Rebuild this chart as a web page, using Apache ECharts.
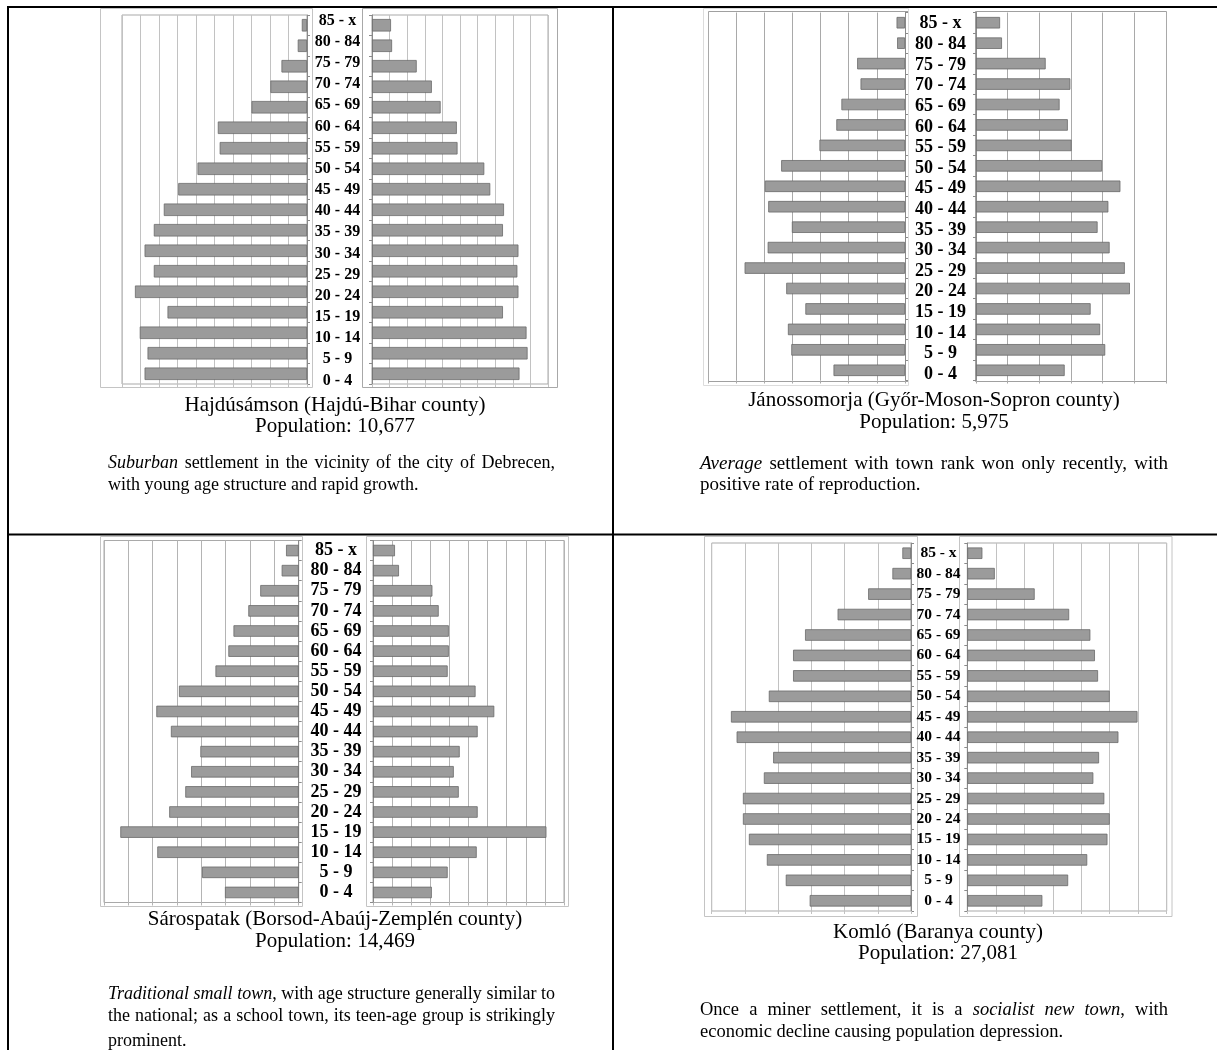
<!DOCTYPE html>
<html><head><meta charset="utf-8">
<script src="https://cdn.jsdelivr.net/npm/echarts@6/dist/echarts.min.js"></script>
<style>html,body{margin:0;padding:0;background:#fff}#c{width:1217px;height:1050px}</style>
</head><body><div id="c"></div>
<script>
// ---------- DATA (age groups bottom -> top) ----------
const AGE_GROUPS = ['0 - 4','5 - 9','10 - 14','15 - 19','20 - 24','25 - 29','30 - 34','35 - 39','40 - 44','45 - 49','50 - 54','55 - 59','60 - 64','65 - 69','70 - 74','75 - 79','80 - 84','85 - x'];

const hajdusamsonLeft  = [439, 431, 452, 377, 465, 414, 439, 414, 387, 348, 296, 236, 241, 150, 99, 69, 25, 14];
const hajdusamsonRight = [419, 442, 439, 372, 416, 413, 416, 372, 375, 336, 319, 243, 241, 195, 170, 127, 57, 54];

const janossomorjaLeft  = [127, 202, 208, 177, 211, 285, 244, 201, 243, 249, 220, 152, 122, 113, 79, 85, 14, 15];
const janossomorjaRight = [140, 204, 196, 181, 243, 235, 211, 192, 209, 228, 199, 151, 145, 132, 149, 110, 41, 38];

const sarospatakLeft  = [303, 397, 581, 733, 532, 466, 442, 404, 525, 585, 492, 342, 289, 268, 207, 158, 70, 52];
const sarospatakRight = [308, 391, 543, 908, 548, 449, 423, 454, 548, 635, 537, 391, 397, 397, 344, 311, 136, 115];

const komloLeft  = [610, 754, 868, 976, 1012, 1012, 886, 830, 1050, 1084, 856, 710, 710, 638, 442, 258, 112, 52];
const komloRight = [527, 708, 842, 984, 1000, 962, 885, 925, 1061, 1195, 1000, 918, 896, 864, 715, 473, 193, 106];

// axis scales (persons): max & gridline step for each half-pyramid
const axisMaxLeft  = [500, 350, 800, 1200];
const axisMaxRight = [500, 300, 1000, 1400];
const axisStep     = [50, 50, 100, 200];

const captions = [
  ['Hajdúsámson (Hajdú-Bihar county)', 'Population: 10,677'],
  ['Jánossomorja (Győr-Moson-Sopron county)', 'Population: 5,975'],
  ['Sárospatak (Borsod-Abaúj-Zemplén county)', 'Population: 14,469'],
  ['Komló (Baranya county)', 'Population: 27,081']
];
const descriptions = [
  ['*Suburban* settlement in the vicinity of the city of Debrecen,', 'with young age structure and rapid growth.'],
  ['*Average* settlement with town rank won only recently, with', 'positive rate of reproduction.'],
  ['*Traditional small town*, with age structure generally similar to', 'the national; as a school town, its teen-age group is strikingly', 'prominent.'],
  ['Once a miner settlement, it is a *socialist new town*, with', 'economic decline causing population depression.']
];

// ---------- LAYOUT ----------
const seriesData = [
  [hajdusamsonLeft, hajdusamsonRight],
  [janossomorjaLeft, janossomorjaRight],
  [sarospatakLeft, sarospatakRight],
  [komloLeft, komloRight]
];
const layout = [
  { L:{left:122, top:15, width:185, height:369}, R:{left:372, top:15, width:176, height:369},
    lab:{cx:337.5, top:10, height:381}, fs:16, barW:12.5, border:true, grid:'#c2c2c2',
    frames:[[100.5,8.5,212,379,'#c4c4c4'],[362.5,8.5,195,379,'#a8a8a8']],
    cap:{cx:335, y:[411.5,433]}, desc:{x0:108, x1:555, fs:18, y:[469,490.5], justify:[true,false]} },
  { L:{left:708, top:12.5, width:197, height:368}, R:{left:976, top:12.5, width:190, height:368},
    lab:{cx:940.5, top:13.5, height:371}, fs:18, barW:11.5, border:false, grid:'#a9a9a9',
    frames:[[708.5,11.5,200,370,'#a0a0a0'],[975.5,11.5,191,370,'#a0a0a0'],[703.5,8.5,205,377,'#dcdcdc']],
    cap:{cx:934, y:[406.7,428.8]}, desc:{x0:700, x1:1168, fs:19, y:[469.5,491], justify:[true,false]} },
  { L:{left:104, top:540.5, width:194.7, height:362}, R:{left:373, top:540.5, width:191, height:362},
    lab:{cx:336, top:540.5, height:362}, fs:18, barW:11.5, border:true, grid:'#b4b4b4',
    frames:[[100.5,536.5,202,370,'#c4c4c4'],[366.5,536.5,202,370,'#c4c4c4']],
    cap:{cx:335, y:[925.7,947.5]}, desc:{x0:108, x1:555, fs:18, y:[1000,1022,1047], justify:[true,true,false]} },
  { L:{left:711.7, top:543, width:199.3, height:368}, R:{left:967.3, top:543, width:199.4, height:368},
    lab:{cx:938.5, top:543, height:368}, fs:15.5, barW:11.5, border:true, grid:'#c2c2c2',
    frames:[[704.5,536.5,213,380,'#c4c4c4'],[959.5,536.5,212.5,380,'#c4c4c4']],
    cap:{cx:938, y:[939,960]}, desc:{x0:700, x1:1168, fs:18.5, y:[1016,1037.7], justify:[true,false]} }
];

const SERIF = '"Liberation Serif", "Times New Roman", serif';
const grids = [], xAxes = [], yAxes = [], series = [], graphics = [];
const AXIS_C = '#8a8a8a', PLOT_C = '#a9a9a9';

layout.forEach((p, i) => {
  ['L','R'].forEach((side, k) => {
    const g = p[side];
    const gi = grids.length;
    grids.push({ left:g.left, top:g.top, width:g.width, height:g.height, containLabel:false, outerBoundsMode:'none',
      show:p.border, borderColor:PLOT_C, borderWidth:1, backgroundColor:'transparent' });
    xAxes.push({ type:'value', gridIndex:gi, min:0, max: side==='L'?axisMaxLeft[i]:axisMaxRight[i], interval:axisStep[i],
      inverse: side==='L', axisLabel:{show:false}, axisLine:{show:false},
      axisTick:{show:true, length:3, lineStyle:{color:p.grid}},
      splitLine:{show:true, lineStyle:{color:p.grid, width:1}} });
    yAxes.push({ type:'category', gridIndex:gi, data:AGE_GROUPS, position: side==='L'?'right':'left',
      axisLabel:{show:false}, axisLine:{show:true, onZero:false, lineStyle:{color:AXIS_C}},
      axisTick:{show:true, length:3, lineStyle:{color:AXIS_C}}, splitLine:{show:false} });
    series.push({ type:'bar', xAxisIndex:gi, yAxisIndex:gi, data:seriesData[i][k], barWidth:p.barW,
      silent:true, animation:false,
      itemStyle:{color:'#9b9b9b', borderColor:'#6a6a6a', borderWidth:0.8} });
  });
  // label column grid
  const li = grids.length;
  grids.push({ left:p.lab.cx, top:p.lab.top, width:2, height:p.lab.height, containLabel:false, outerBoundsMode:'none', show:false });
  xAxes.push({ type:'value', gridIndex:li, min:0, max:1, show:false });
  yAxes.push({ type:'category', gridIndex:li, data:AGE_GROUPS, position:'left',
    axisLine:{show:false}, axisTick:{show:false}, splitLine:{show:false},
    axisLabel:{show:true, interval:0, margin:0, align:'center', color:'#000', fontFamily:SERIF, fontWeight:'bold', fontSize:p.fs} });

  p.frames.forEach(f => graphics.push({ type:'rect', silent:true, shape:{x:f[0], y:f[1], width:f[2], height:f[3]},
    style:{fill:'none', stroke:f[4], lineWidth:1} }));
});

// ---------- TEXT ----------
const CAP_FS = 21;
const ctx = document.createElement('canvas').getContext('2d');
const fontOf = (fs, it) => (it ? 'italic ' : '') + fs + 'px "Liberation Serif", "Times New Roman", serif';
const measure = (t, fs, it) => { ctx.font = fontOf(fs, it); return ctx.measureText(t).width; };

function parseWords(str) {
  let it = false;
  return str.split(' ').map(w => {
    const segs = []; let cur = '';
    for (const ch of w) {
      if (ch === '*') { if (cur) segs.push([cur, it]); cur = ''; it = !it; }
      else cur += ch;
    }
    if (cur) segs.push([cur, it]);
    return segs;
  });
}
function lineEls(str, x0, x1, baseline, fs, justify) {
  const words = parseWords(str);
  const widths = words.map(w => w.reduce((s, [t, it]) => s + measure(t, fs, it), 0));
  const total = widths.reduce((a, b) => a + b, 0);
  const sp = measure(' ', fs, false);
  let gap = sp;
  if (justify && words.length > 1) gap = Math.max(sp * 0.5, (x1 - x0 - total) / (words.length - 1));
  let x = x0;
  words.forEach(w => {
    w.forEach(([t, it]) => {
      graphics.push({ type:'text', silent:true, x:x, y:baseline - 0.3 * fs,
        style:{ text:t, font:fontOf(fs, it), fill:'#000', textAlign:'left', textVerticalAlign:'middle', verticalAlign:'middle' } });
      x += measure(t, fs, it);
    });
    x += gap;
  });
}

layout.forEach((p, i) => {
  captions[i].forEach((t, j) => graphics.push({ type:'text', silent:true, x:p.cap.cx, y:p.cap.y[j] - 0.3 * CAP_FS,
    style:{ text:t, font:fontOf(CAP_FS, false), fill:'#000', textAlign:'center', textVerticalAlign:'middle', verticalAlign:'middle' } }));
  descriptions[i].forEach((t, j) => lineEls(t, p.desc.x0, p.desc.x1, p.desc.y[j], p.desc.fs, p.desc.justify[j]));
});

// ---------- TABLE RULES ----------
[[7, 6, 1210, 2], [7, 6, 2, 1044], [612, 6, 2, 1044], [7, 533.5, 1210, 2]].forEach(r =>
  graphics.push({ type:'rect', silent:true, shape:{x:r[0], y:r[1], width:r[2], height:r[3]}, style:{fill:'#000'} }));

const chart = echarts.init(document.getElementById('c'), null, {renderer:'canvas'});
chart.setOption({
  animation:false,
  backgroundColor:'#fff',
  grid:grids, xAxis:xAxes, yAxis:yAxes, series:series,
  graphic:{ elements:graphics }
});
</script></body></html>
